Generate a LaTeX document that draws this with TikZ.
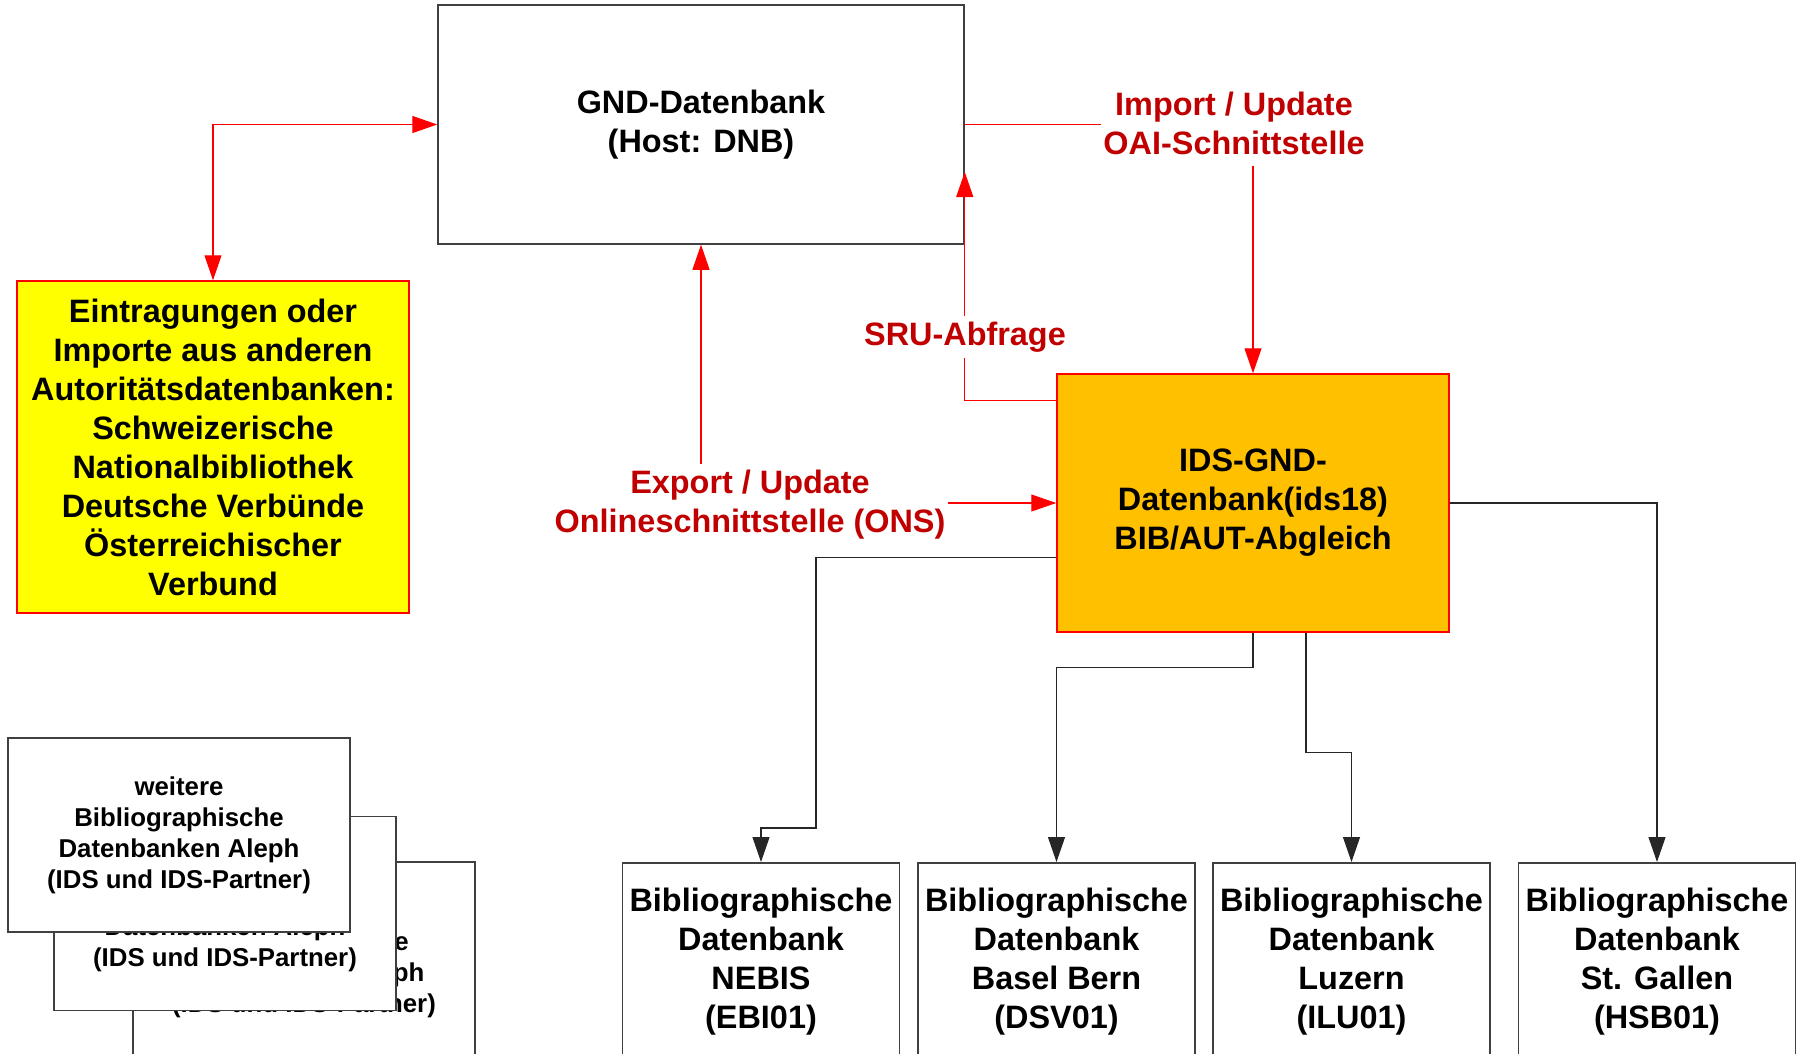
\documentclass[tikz,border=0pt]{standalone}
\usepackage{fontspec}
\setmainfont{Liberation Sans}
\usepackage{xcolor}
\usepackage{tikz}
\usetikzlibrary{arrows.meta, positioning}

\definecolor{gndrot}{HTML}{C00000}
\definecolor{idsorange}{HTML}{FFC000}
\definecolor{hellgelb}{HTML}{FFFF00}
\definecolor{linienrot}{HTML}{FF0000}
\definecolor{rahmen}{HTML}{404040}

\newcommand{\grossschrift}{\fontsize{32.4}{39}\selectfont\bfseries}
\newcommand{\kleinschrift}{\fontsize{25.8}{31}\selectfont\bfseries}

\begin{document}
\begin{tikzpicture}[x=1pt, y=-1pt, >={Triangle[length=25pt, width=17pt]},
    kasten/.style={draw=rahmen, line width=1.5pt, fill=white, align=center, font=\grossschrift},
    unten/.style={kasten, anchor=north, minimum width=277pt, inner xsep=4pt, inner ysep=25pt},
    stapel/.style={kasten, font=\kleinschrift, minimum width=342pt, minimum height=194pt},
    marke/.style={text=gndrot, align=center, font=\grossschrift, inner xsep=2pt, inner ysep=6pt},
    rotpfeil/.style={draw=linienrot, line width=1.2pt},
    schwarzpfeil/.style={draw=black!85, line width=1.2pt, ->}]
    \useasboundingbox (0,0) rectangle (1808,1054);
    \clip (0,0) rectangle (1808,1054);

    % 1. GND und Zulieferer
    \node[kasten, minimum width=526pt, minimum height=239pt] (gnd) at (701,124.5)
        {GND-Datenbank\\(Host: DNB)};
    \node[kasten, fill=hellgelb, draw=linienrot, minimum width=392pt, minimum height=332pt] (eintrag) at (213,447)
        {Eintragungen oder\\Importe aus anderen\\Autoritätsdatenbanken:\\Schweizerische\\Nationalbibliothek\\Deutsche Verbünde\\Österreichischer\\Verbund};
    \node[kasten, fill=idsorange, draw=linienrot, minimum width=392pt, minimum height=258pt] (ids) at (1253,503)
        {IDS-GND-\\Datenbank(ids18)\\BIB/AUT-Abgleich};

    % 2. Bibliographische Datenbanken
    \node[unten] (ebi) at (761,862) {Bibliographische\\Datenbank\\NEBIS\\(EBI01)};
    \node[unten] (dsv) at (1056.5,862) {Bibliographische\\Datenbank\\Basel Bern\\(DSV01)};
    \node[unten] (ilu) at (1351.5,862) {Bibliographische\\Datenbank\\Luzern\\(ILU01)};
    \node[unten] (hsb) at (1657,862) {Bibliographische\\Datenbank\\St. Gallen\\(HSB01)};

    \node[stapel] (weitere3) at (304,959) {weitere\\Bibliographische\\Datenbanken Aleph\\(IDS und IDS-Partner)};
    \node[stapel] (weitere2) at (225,913.5) {weitere\\Bibliographische\\Datenbanken Aleph\\(IDS und IDS-Partner)};
    \node[stapel] (weitere1) at (179,835) {weitere\\Bibliographische\\Datenbanken Aleph\\(IDS und IDS-Partner)};

    % 3. Schnittstellen
    \node[marke] (imp) at (1234,123) {Import / Update\\OAI-Schnittstelle};
    \node[marke] (sru) at (965,337) {SRU-Abfrage};
    \node[marke] (exp) at (750,505) {Export / Update\\Onlineschnittstelle (ONS)};

    % 4. Rote Verbindungen
    \draw[rotpfeil, <->] (gnd.west) -| (eintrag.north);
    \draw[rotpfeil] (gnd.east) -- (imp.west |- gnd.east);
    \draw[rotpfeil, ->] ([yshift=-5pt]imp.south -| ids.north) -- (ids.north);
    \draw[rotpfeil] ([yshift=102.5pt]ids.west) -| (sru.south -| gnd.east);
    \draw[rotpfeil, ->] (sru.north -| gnd.east) -- ([yshift=-47.5pt]gnd.east);
    \draw[rotpfeil, ->] (exp.north -| gnd.south) -- (gnd.south);
    \draw[rotpfeil, ->] (exp.east |- ids.west) -- (ids.west);

    % 5. Verteilung an die Verbünde
    \draw[schwarzpfeil] ([yshift=-54.5pt]ids.west) -| (816,828) -| (ebi.north);
    \draw[schwarzpfeil] (ids.south) -- ++(0,35) -| (dsv.north);
    \draw[schwarzpfeil] ([xshift=53pt]ids.south) -- ++(0,120) -| (ilu.north);
    \draw[schwarzpfeil] (ids.east) -| (hsb.north);
\end{tikzpicture}
\end{document}
